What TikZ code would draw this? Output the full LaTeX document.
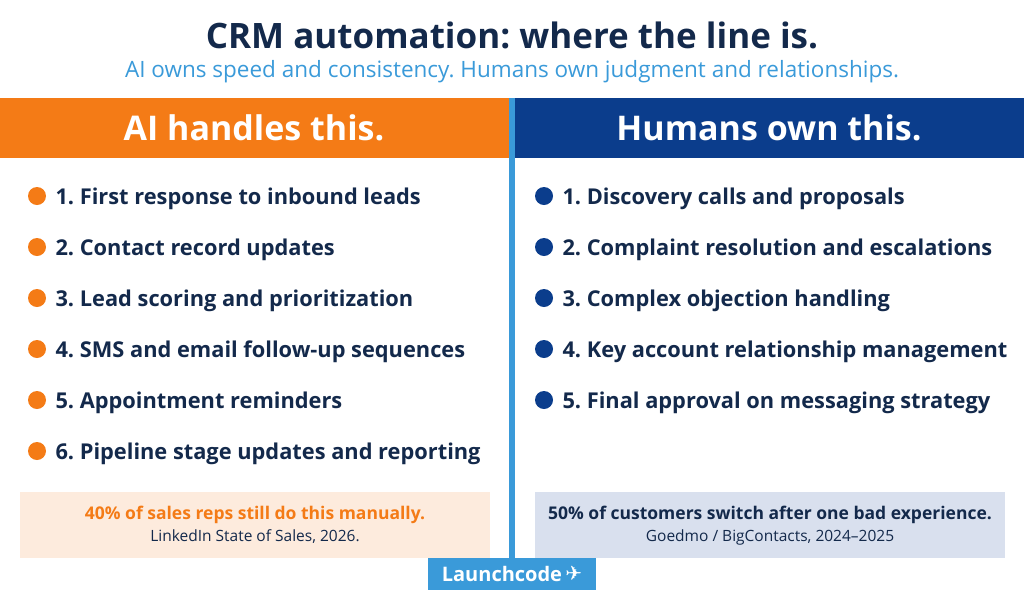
\documentclass[tikz,border=0pt]{standalone}
\usepackage{fontspec}
\setmainfont{Open Sans}
\frenchspacing
\definecolor{navy}{HTML}{13294B}
\definecolor{skyblue}{HTML}{3A9AD9}
\definecolor{aiorange}{HTML}{F47B16}
\definecolor{humanblue}{HTML}{0B3D8C}
\definecolor{peach}{HTML}{FDEBDD}
\definecolor{mist}{HTML}{D9E0EE}
\tikzset{
  item/.style={anchor=west, font=\fontsize{21.8}{24}\selectfont\bfseries, text=navy},
  bandtext/.style={font=\fontsize{34}{38}\selectfont\bfseries, text=white},
}
\begin{document}
\begin{tikzpicture}[x=1pt,y=-1pt]
\useasboundingbox (0,0) rectangle (1024,590);
% title
\node (title) [font=\fontsize{35}{40}\selectfont\bfseries, text=navy] at (512,35) {CRM automation: where the line is.};
\node (sub) [font=\fontsize{22.5}{26}\selectfont, text=skyblue] at (512,72) {AI owns speed and consistency. Humans own judgment and relationships.};

% header bands
\fill [aiorange] (0,98) rectangle (509,158);
\fill [humanblue] (515,98) rectangle (1024,158);
\fill [skyblue] (509,98) rectangle (515,560);
\node (aihead) [bandtext] at (254,128) {AI handles this.};
\node (huhead) [bandtext] at (769,128) {Humans own this.};

% left list
\foreach \t [count=\i] in {First response to inbound leads, Contact record updates,
  Lead scoring and prioritization, SMS and email follow-up sequences,
  Appointment reminders, Pipeline stage updates and reporting} {
  \fill [aiorange] (37,{145+51*\i}) circle[radius=9];
  \node (ai\i) [item] at (52,{148+51*\i}) {\i. \t};
}

% right list
\foreach \t [count=\i] in {Discovery calls and proposals, Complaint resolution and escalations,
  Complex objection handling, Key account relationship management,
  Final approval on messaging strategy} {
  \fill [humanblue] (544,{145+51*\i}) circle[radius=9];
  \node (hu\i) [item] at (559,{148+51*\i}) {\i. \t};
}

% stat boxes
\fill [peach] (20,492) rectangle (490,558);
\node (aistat) [font=\fontsize{17.5}{20}\selectfont\bfseries, text=aiorange] at (255,515) {40\% of sales reps still do this manually.};
\node (aisrc) [font=\fontsize{15.5}{18}\selectfont, text=navy] at (255,537) {LinkedIn State of Sales, 2026.};
\fill [mist] (535,492) rectangle (1005,558);
\node (hustat) [font=\fontsize{17.5}{20}\selectfont\bfseries, text=navy] at (770,515) {50\% of customers switch after one bad experience.};
\node (husrc) [font=\fontsize{15.5}{18}\selectfont, text=navy] at (770,537) {Goedmo / BigContacts, 2024–2025};

% logo
\fill [skyblue] (428,558) rectangle (596,590);
\node (logo) [font=\fontsize{20}{22}\selectfont\bfseries, text=white] at (512,574) {Launchcode\,\raisebox{1pt}{\fontspec{DejaVu Sans}✈}};
\end{tikzpicture}
\end{document}
